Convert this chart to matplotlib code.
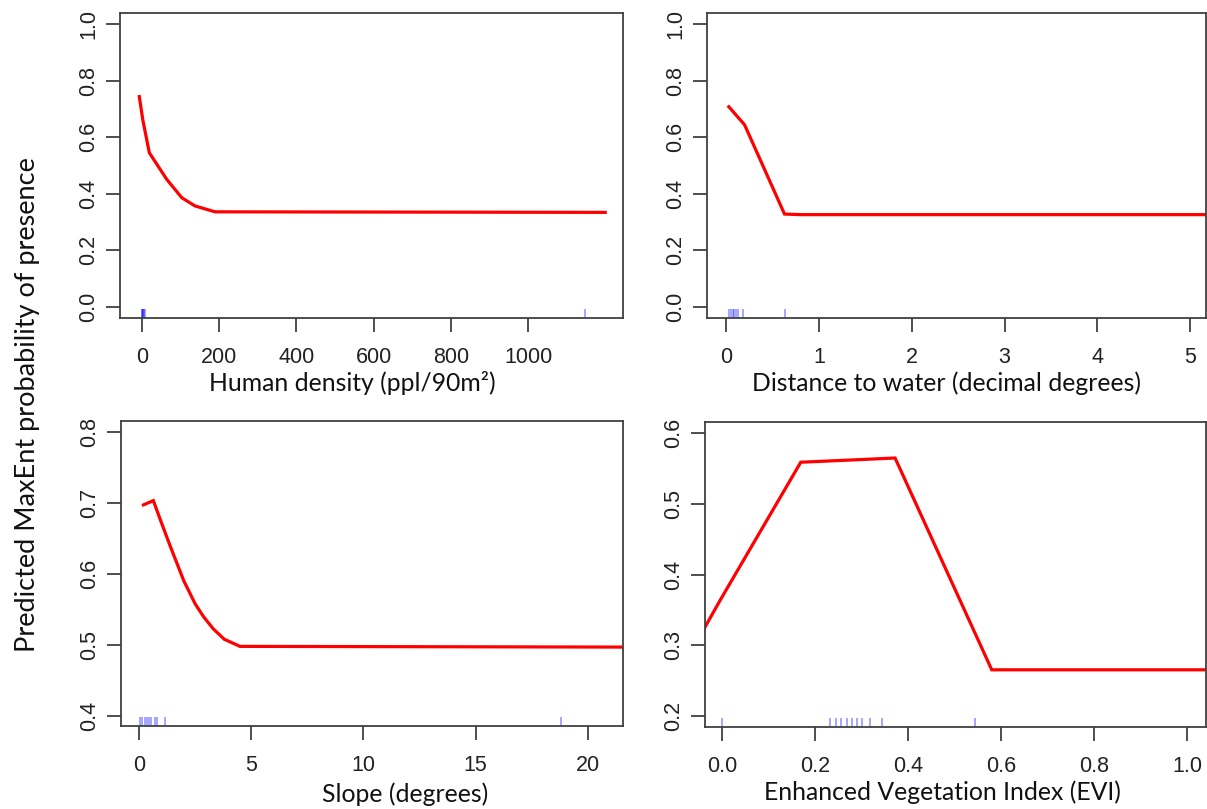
import numpy as np
import matplotlib
matplotlib.use('Agg')
import matplotlib.pyplot as plt

# response curves
human_x = [-7, 2, 19, 64, 103, 137, 189, 1200]
human_y = [0.744, 0.662, 0.545, 0.451, 0.386, 0.357, 0.336, 0.334]
human_rug = [0, 1, 2, 3, 5, 8, 1147]

water_x = [0.03, 0.2, 0.63, 0.8, 5.3]
water_y = [0.708, 0.644, 0.328, 0.326, 0.326]
water_rug = [0.03, 0.05, 0.07, 0.09, 0.11, 0.13, 0.18, 0.64]

slope_x = [0.2, 0.64, 1.0, 1.38, 2.0, 2.5, 2.87, 3.3, 3.8, 4.5, 21.6]
slope_y = [0.697, 0.703, 0.672, 0.640, 0.590, 0.558, 0.540, 0.523, 0.508, 0.498, 0.497]
slope_rug = [0.05, 0.15, 0.25, 0.35, 0.45, 0.55, 0.7, 0.8, 1.17, 18.8]

evi_x = [-0.04, -0.004, 0.169, 0.372, 0.58, 1.05]
evi_y = [0.322, 0.364, 0.559, 0.565, 0.265, 0.265]
evi_rug = [0.0, 0.232, 0.244, 0.256, 0.268, 0.279, 0.290, 0.300, 0.318, 0.343, 0.543]

panels = [
    # x, y, rug, xlim, ylim, xticks, xticklabels, yticks, box, label, label pos
    (human_x, human_y, human_rug, (-57, 1246), (-0.04, 1.04),
     [0, 200, 400, 600, 800, 1000], ['0', '200', '400', '600', '800', '1000'],
     [0, 0.2, 0.4, 0.6, 0.8, 1.0], (120, 13, 623, 318),
     'Human density (ppl/90m\u00b2)', (352, 383)),
    (water_x, water_y, water_rug, (-0.205, 5.17), (-0.04, 1.04),
     [0, 1, 2, 3, 4, 5], ['0', '1', '2', '3', '4', '5'],
     [0, 0.2, 0.4, 0.6, 0.8, 1.0], (707, 13, 1206, 318),
     'Distance to water (decimal degrees)', (947, 383)),
    (slope_x, slope_y, slope_rug, (-0.8, 21.56), (0.386, 0.815),
     [0, 5, 10, 15, 20], ['0', '5', '10', '15', '20'],
     [0.4, 0.5, 0.6, 0.7, 0.8], (121, 421, 623, 726),
     'Slope (degrees)', (405, 794)),
    (evi_x, evi_y, evi_rug, (-0.037, 1.041), (0.184, 0.616),
     [0, 0.2, 0.4, 0.6, 0.8, 1.0], ['0.0', '0.2', '0.4', '0.6', '0.8', '1.0'],
     [0.2, 0.3, 0.4, 0.5, 0.6], (705, 422, 1206, 727),
     'Enhanced Vegetation Index (EVI)', (942, 792)),
]

W, H = 1207, 809
fig = plt.figure(figsize=(W / 100, H / 100), dpi=100)
edge = '#404040'

for (x, y, rug, xlim, ylim, xt, xtl, yt, box, label, lpos) in panels:
    l, t, r, b = box
    ax = fig.add_axes([l / W, 1 - b / H, (r - l) / W, (b - t) / H])
    ax.plot(x, y, color='red', lw=2.3, solid_joinstyle='miter')
    ax.vlines(rug, 0, 0.03, transform=ax.get_xaxis_transform(),
              color='blue', alpha=0.45, lw=1.1)
    ax.set_xlim(xlim)
    ax.set_ylim(ylim)
    ax.set_xticks(xt)
    ax.set_xticklabels(xtl)
    ax.set_yticks(yt)
    ax.set_yticklabels(['%.1f' % v for v in yt], rotation=90, va='center')
    for s in ax.spines.values():
        s.set_color(edge)
        s.set_linewidth(1.3)
    ax.tick_params(axis='both', direction='out', length=10, width=1.3,
                   color=edge, labelsize=15.5, labelcolor='#222222')
    ax.tick_params(axis='x', pad=11)
    ax.tick_params(axis='y', pad=5)
    for lab in ax.get_xticklabels() + ax.get_yticklabels():
        lab.set_family('Liberation Sans')
    fig.text(lpos[0] / W, 1 - lpos[1] / H, label, ha='center', va='center',
             fontsize=17.8, family='Lato', color='#111111')

fig.text(28 / W, 1 - 405 / H, 'Predicted MaxEnt probability of presence',
         rotation=90, ha='center', va='center', fontsize=19.5, family='Lato',
         color='#111111')

fig.savefig('out.png', dpi=100)
